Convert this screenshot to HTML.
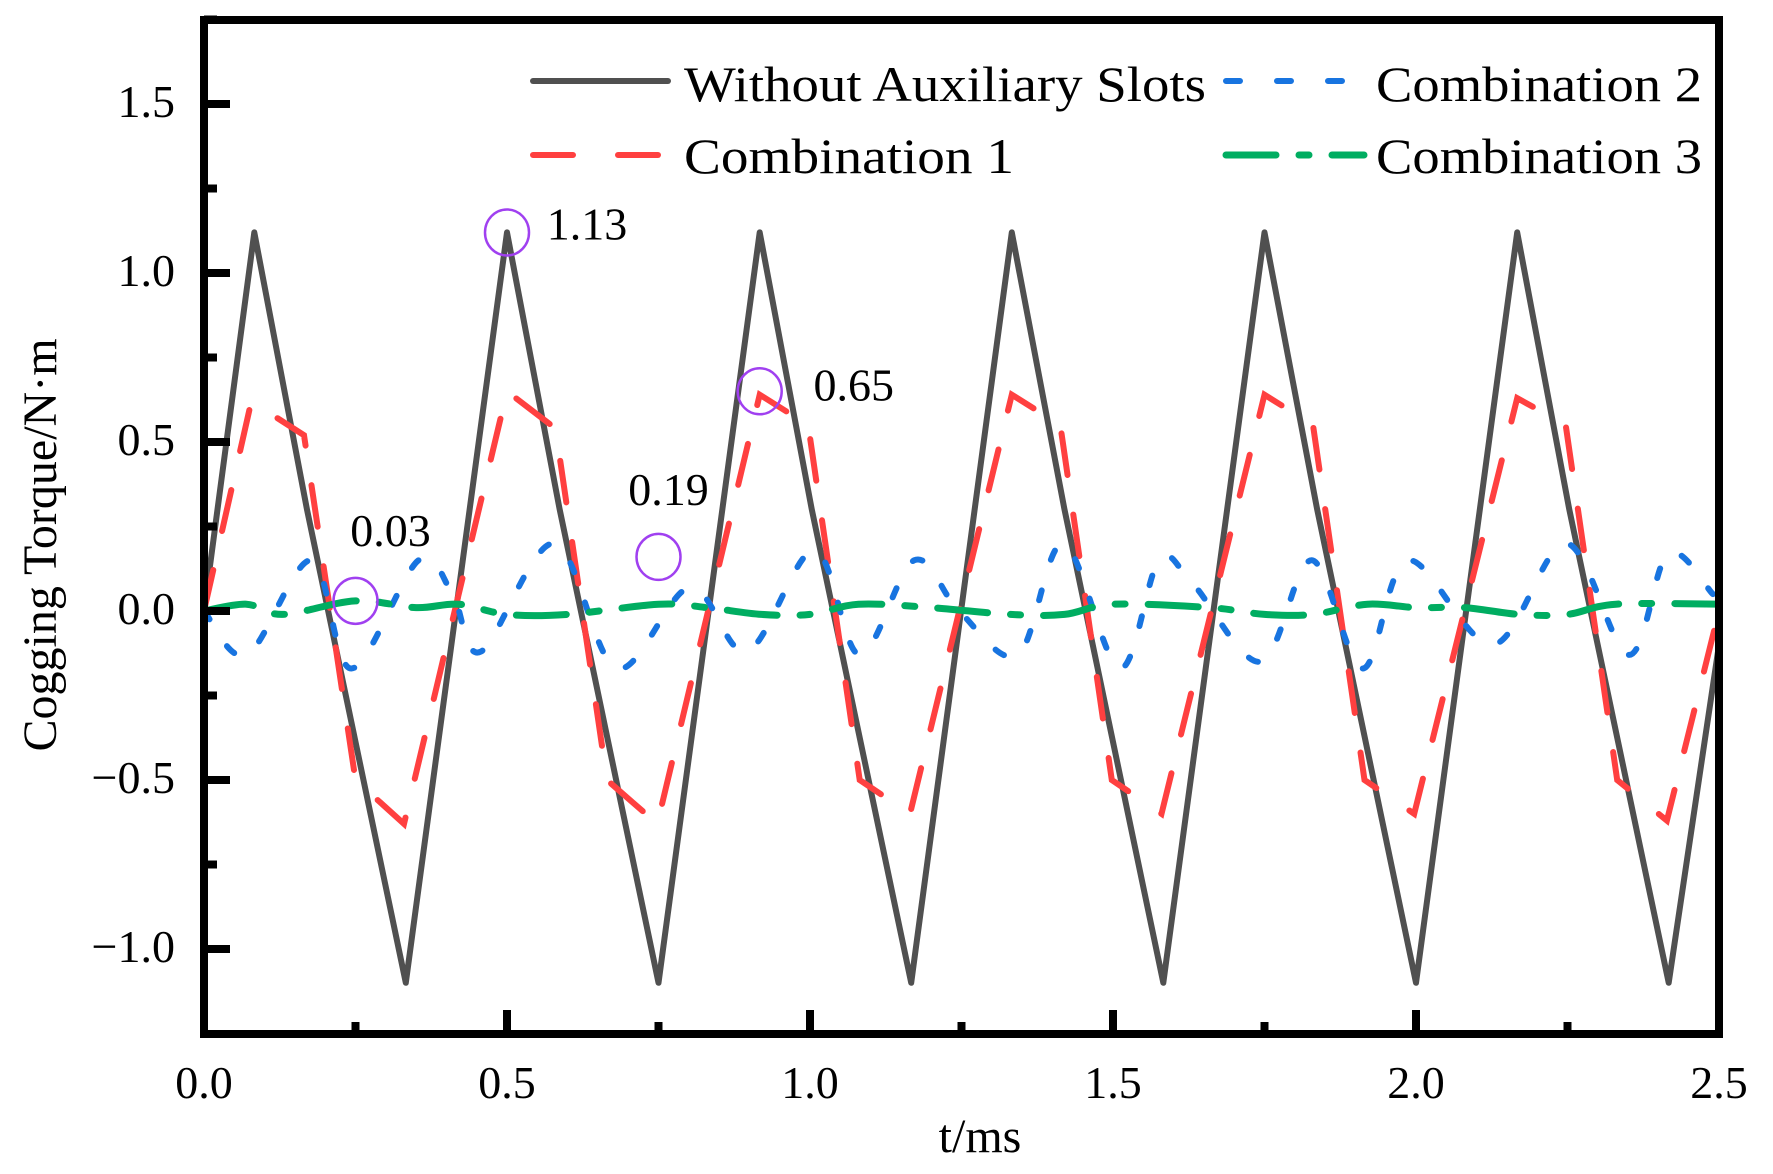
<!DOCTYPE html>
<html><head><meta charset="utf-8"><style>
html,body{margin:0;padding:0;background:#fff;}
svg{display:block;font-family:"Liberation Serif",serif;}
</style></head><body>
<svg id="chart" width="1773" height="1174" viewBox="0 0 1773 1174" xmlns="http://www.w3.org/2000/svg">
<defs><clipPath id="plotclip"><rect x="208" y="24" width="1508" height="1006"/></clipPath></defs>
<g id="series" clip-path="url(#plotclip)"></g>
<g id="axes"></g>
<g id="annot"></g>
<g id="legend"></g>
</svg>
<script>
const xTicks=[0,0.5,1.0,1.5,2.0,2.5];
const xTickLabels=["0.0","0.5","1.0","1.5","2.0","2.5"];
const yTicks=[-1.0,-0.5,0.0,0.5,1.0,1.5];
const yTickLabels=["\u22121.0","\u22120.5","0.0","0.5","1.0","1.5"];
const blackT=[0,0.083,0.17,0.333,0.5,0.587,0.75,0.917,1.003,1.167,1.333,1.42,1.583,1.75,1.837,2.0,2.167,2.253,2.417,2.5];
const blackV=[0,1.12,0.3,-1.1,1.12,0.3,-1.1,1.12,0.3,-1.1,1.12,0.3,-1.1,1.12,0.3,-1.1,1.12,0.3,-1.1,-0.1];
const redT=[0,0.078,0.165,0.25,0.33,0.5,0.58,0.665,0.748,0.917,0.997,1.082,1.165,1.333,1.413,1.498,1.58,1.75,1.83,1.915,1.997,2.167,2.247,2.332,2.414,2.5];
const redV=[0,0.62,0.52,-0.5,-0.63,0.65,0.54,-0.5,-0.63,0.64,0.55,-0.5,-0.6,0.64,0.55,-0.5,-0.6,0.64,0.55,-0.5,-0.6,0.63,0.55,-0.5,-0.62,0];
const blueT=[0,0.071,0.177,0.243,0.354,0.41,0.457,0.578,0.681,0.802,0.896,1.007,1.082,1.172,1.246,1.343,1.418,1.511,1.576,1.632,1.744,1.828,1.912,1.987,2.127,2.248,2.351,2.416,2.49];
const blueV=[0,-0.13,0.15,-0.17,0.15,0.05,-0.12,0.2,-0.17,0.07,-0.12,0.18,-0.13,0.15,0,-0.13,0.2,-0.17,0.15,0.08,-0.15,0.15,-0.17,0.15,-0.1,0.2,-0.13,0.17,0.05];
const greenT=[0,0.07,0.13,0.25,0.35,0.42,0.5,0.6,0.75,0.83,0.92,1.0,1.08,1.2,1.33,1.42,1.5,1.66,1.75,1.83,1.92,2.0,2.08,2.17,2.25,2.33,2.5];
const greenV=[0,0.02,-0.01,0.03,0.01,0.02,-0.01,-0.01,0.02,0.01,-0.01,-0.01,0.02,0.01,-0.01,-0.01,0.02,0.01,-0.01,-0.01,0.02,0.01,0.01,-0.01,-0.01,0.02,0.02];
const annoT=[0.25,0.5,0.75,0.917];
const annoV=[0.03,1.12,0.16,0.65];
const annoLabels=["0.03","1.13","0.19","0.65"];

const NS="http://www.w3.org/2000/svg";
const X0=204,X1=1719,Y0=611,YS=338;
function sx(t){return X0+(t/2.5)*(X1-X0);}
function sy(v){return Y0-v*YS;}
function mk(tag,attrs,parent){const e=document.createElementNS(NS,tag);for(const k in attrs)e.setAttribute(k,attrs[k]);parent.appendChild(e);return e;}
const series=document.getElementById('series'),axes=document.getElementById('axes'),annot=document.getElementById('annot'),legend=document.getElementById('legend');

function linePath(T,V){return T.map((t,i)=>(i?'L':'M')+sx(t).toFixed(1)+','+sy(V[i]).toFixed(1)).join(' ');}
function smoothPath(T,V){const p=T.map((t,i)=>[sx(t),sy(V[i])]);let d='M'+p[0][0]+','+p[0][1];
for(let i=0;i<p.length-1;i++){const a=p[Math.max(0,i-1)],b=p[i],c=p[i+1],e=p[Math.min(p.length-1,i+2)];
d+=' C'+(b[0]+(c[0]-a[0])/6).toFixed(1)+','+(b[1]+(c[1]-a[1])/6).toFixed(1)+' '+(c[0]-(e[0]-b[0])/6).toFixed(1)+','+(c[1]-(e[1]-b[1])/6).toFixed(1)+' '+c[0].toFixed(1)+','+c[1].toFixed(1);}return d;}

let el;
el=mk('path',{d:linePath(blackT,blackV),fill:'none',stroke:'#505050','stroke-width':6,'stroke-linejoin':'round','stroke-linecap':'round'},series);


el=mk('path',{d:linePath(redT,redV),fill:'none',stroke:'#ff4040','stroke-width':6,'stroke-dasharray':'42 40','stroke-linecap':'round'},series);


el=mk('path',{d:smoothPath(blueT,blueV),fill:'none',stroke:'#1874e0','stroke-width':6,'stroke-dasharray':'10 32','stroke-linecap':'round'},series);


el=mk('path',{d:smoothPath(greenT,greenV),fill:'none',stroke:'#00ad61','stroke-width':7,'stroke-dasharray':'50 23 10 23','stroke-linecap':'round'},series);



el=mk('rect',{x:204,y:20,width:1515,height:1014,fill:'none',stroke:'#000','stroke-width':8},axes);


xTicks.forEach((t,i)=>{
 let e=mk('line',{x1:sx(t),x2:sx(t),y1:1034,y2:1010,stroke:'#000','stroke-width':8},axes);
 
 
 if(i<xTicks.length-1){e=mk('line',{x1:sx(t+0.25),x2:sx(t+0.25),y1:1034,y2:1022,stroke:'#000','stroke-width':8},axes);
 
 }
 e=mk('text',{x:sx(t),y:1098,'text-anchor':'middle','font-size':46},axes);e.textContent=xTickLabels[i];
 
 
});
yTicks.forEach((v,i)=>{
 let e=mk('line',{x1:204,x2:230,y1:sy(v),y2:sy(v),stroke:'#000','stroke-width':8},axes);
 
 
 e=mk('line',{x1:204,x2:217,y1:sy(v+0.25),y2:sy(v+0.25),stroke:'#000','stroke-width':8},axes);
 
 
 e=mk('text',{x:175,y:sy(v)+13,'text-anchor':'end','font-size':46},axes);e.textContent=yTickLabels[i];
 
 
});
el=mk('text',{x:980,y:1152,'text-anchor':'middle','font-size':48},axes);el.textContent='t/ms';


el=mk('text',{x:0,y:0,'text-anchor':'middle','font-size':48,transform:'translate(56,545) rotate(-90)'},axes);el.textContent='Cogging Torque/N\u00b7m';



const labelDx=[35,80,10,94],labelDy=[-55,7,-52,9];
annoT.forEach((t,i)=>{
 let e=mk('ellipse',{cx:sx(t),cy:sy(annoV[i]),rx:22,ry:23,fill:'none',stroke:'#a040f0','stroke-width':2.5},annot);
 
 
 e=mk('text',{x:sx(t)+labelDx[i],y:sy(annoV[i])+labelDy[i],'text-anchor':'middle','font-size':46},annot);e.textContent=annoLabels[i];
 
 
});

const leg=[[533,668,81,'#505050','none',6,'Without Auxiliary Slots',684,101,522],
[1226,1342,81,'#1874e0','14 37',6,'Combination 2',1376,101,326],
[533,663,155,'#ff4040','40 45',6,'Combination 1',684,173,330],
[1226,1364,155,'#00ad61','50 23 10 23',7,'Combination 3',1376,173,326]];
const legNames=['legend-without-auxiliary-slots','legend-combination-2','legend-combination-1','legend-combination-3'];
leg.forEach((L,i)=>{
 const g=mk('g',{},legend);
 
 
 mk('line',{x1:L[0],x2:L[1],y1:L[2],y2:L[2],stroke:L[3],'stroke-width':L[5],'stroke-dasharray':L[4],'stroke-linecap':'round'},g);
 const t=mk('text',{x:L[7],y:L[8],'font-size':50,textLength:L[9],lengthAdjust:'spacingAndGlyphs'},g);t.textContent=L[6];
});
</script>
</body></html>
